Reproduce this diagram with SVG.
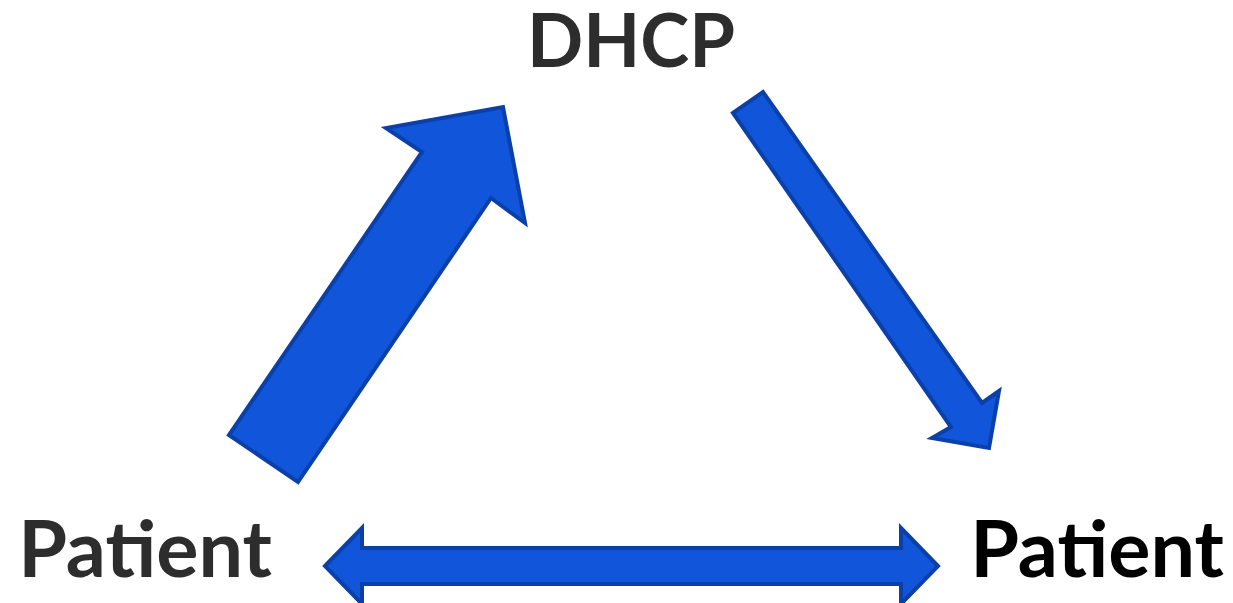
<svg xmlns="http://www.w3.org/2000/svg" width="1233" height="603" viewBox="0 0 1233 603">
  <style>
    .lbl { font-family: Lato, "Open Sans", "Liberation Sans", sans-serif; font-weight: bold; font-size: 79px; }
    .arrow { fill: #1155DB; stroke: #0B40A8; stroke-width: 4; stroke-linejoin: miter; }
  </style>
  <rect width="1233" height="603" fill="#ffffff"/>

  <g id="node-dhcp">
    <text class="lbl" x="631" y="67" fill="#2d2d2d" text-anchor="middle" style="font-size:74px">DHCP</text>
  </g>
  <g id="node-patient-left">
    <text class="lbl" x="145" y="577" fill="#2d2d2d" text-anchor="middle">Patient</text>
  </g>
  <g id="node-patient-right">
    <text class="lbl" x="1097" y="577" fill="#000000" text-anchor="middle">Patient</text>
  </g>

  <g id="connectors">
    <!-- patient (left) to DHCP: wide block arrow -->
    <polygon class="arrow" points="229,435 298,482 491,198 525,223 503,107 386,128 422,152"/>
    <!-- DHCP to patient (right): slim block arrow -->
    <polygon class="arrow" points="733,113 763,92 982,403 999,391 989,448 932,438 951,427"/>
    <!-- patient to patient: double-headed arrow -->
    <polygon class="arrow" points="325,566 362,528 362,548 901,548 901,528 938,566 901,604 901,584 362,584 362,604"/>
  </g>
</svg>
